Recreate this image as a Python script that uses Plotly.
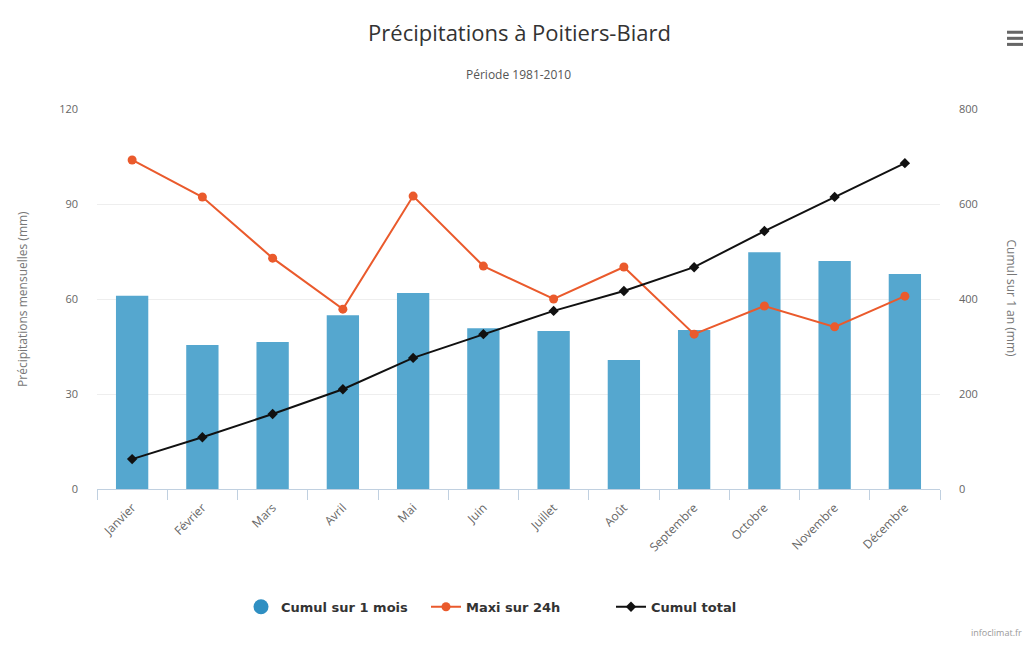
import plotly.graph_objects as go

mois = ["Janvier", "Février", "Mars", "Avril", "Mai", "Juin", "Juillet",
        "Août", "Septembre", "Octobre", "Novembre", "Décembre"]
cumul_mois = [61.0, 45.5, 46.4, 54.9, 61.9, 50.8, 49.9, 40.7, 50.2, 74.8, 72.0, 67.9]
maxi_24h = [103.9, 92.2, 72.9, 56.8, 92.5, 70.4, 60.0, 70.1, 48.9, 57.8, 51.2, 60.9]
cumul_total = [63, 109, 158, 210, 276, 326, 375, 417, 467, 543, 615, 686]

font = "Open Sans, DejaVu Sans, sans-serif"
bleu = "#55a7cf"
orange = "#ea5a2c"

fig = go.Figure()

fig.add_trace(go.Bar(
    x=mois, y=cumul_mois, name="Cumul sur 1 mois",
    marker=dict(color=bleu, line=dict(width=0)),
    width=0.46, showlegend=False,
))
# legend proxy (Highcharts shows a round symbol for the column series)
fig.add_trace(go.Scatter(
    x=[mois[0]], y=[None], mode="markers", name="Cumul sur 1 mois",
    marker=dict(color="#2f8fc2", size=15, symbol="circle"),
))
fig.add_trace(go.Scatter(
    x=mois, y=maxi_24h, name="Maxi sur 24h", mode="lines+markers",
    line=dict(color=orange, width=2),
    marker=dict(color=orange, size=9, symbol="circle"),
))
fig.add_trace(go.Scatter(
    x=mois, y=cumul_total, name="Cumul total", mode="lines+markers",
    yaxis="y2",
    line=dict(color="#111111", width=2),
    marker=dict(color="#111111", size=8, symbol="diamond"),
))

axis_font = dict(family=font, size=11, color="#666666")

# page body has an 8px margin, so the figure is 16px smaller than the window
fig.update_layout(
    width=1023, height=638,
    paper_bgcolor="white", plot_bgcolor="white",
    margin=dict(l=89, r=91, t=101, b=157, autoexpand=False),
    title=dict(text="Précipitations à Poitiers-Biard", x=0.5, xanchor="center",
               y=0.961, yanchor="middle",
               font=dict(family=font, size=22, color="#333333")),
    xaxis=dict(
        type="category", range=[-0.5, 11.5], tickangle=-45, tickson="boundaries",
        ticks="outside", ticklen=10, tickcolor="#c0d0e0",
        showline=True, linecolor="#c0d0e0", linewidth=1,
        showgrid=False, tickfont=dict(family=font, size=12, color="#666666"),
        ticklabelstandoff=6, automargin=False,
    ),
    yaxis=dict(
        range=[0, 120], dtick=30, tickfont=axis_font,
        gridcolor="#eeeeee", zeroline=False, ticks="", ticklabelstandoff=18,
        automargin=False,
    ),
    yaxis2=dict(
        range=[0, 800], dtick=200, overlaying="y", side="right",
        tickfont=axis_font, showgrid=False, zeroline=False,
        ticklabelstandoff=18, automargin=False,
    ),
    legend=dict(orientation="h", x=0.5, xanchor="center", y=-0.31,
                yanchor="middle", entrywidth=140, entrywidthmode="pixels",
                font=dict(family="DejaVu Sans, sans-serif", size=13,
                          color="#333333", weight="bold"),
                itemclick=False),
    annotations=[
        dict(text="Période 1981-2010", x=0.5, y=1.092, xref="paper", yref="paper",
             xanchor="center", yanchor="middle", showarrow=False,
             font=dict(family=font, size=12, color="#555555")),
        dict(text="Précipitations mensuelles (mm)", xref="paper", yref="paper",
             x=-0.089, y=0.5, xanchor="center", yanchor="middle",
             textangle=-90, showarrow=False,
             font=dict(family=font, size=12, color="#777777")),
        dict(text="Cumul sur 1 an (mm)", xref="paper", yref="paper",
             x=1.086, y=0.5, xanchor="center", yanchor="middle",
             textangle=90, showarrow=False,
             font=dict(family=font, size=12, color="#777777")),
        dict(text="infoclimat.fr", xref="paper", yref="paper",
             x=1.1, y=-0.4, xanchor="right", showarrow=False,
             font=dict(family=font, size=9, color="#999999")),
    ],
)

# menu button (three bars) at top right
for i in range(3):
    fig.add_shape(type="rect", xref="paper", yref="paper",
                  x0=1.0795, x1=1.1008, y0=1.198 - i * 0.016, y1=1.206 - i * 0.016,
                  fillcolor="#666666", line=dict(width=0))

fig.write_html("out.html")
